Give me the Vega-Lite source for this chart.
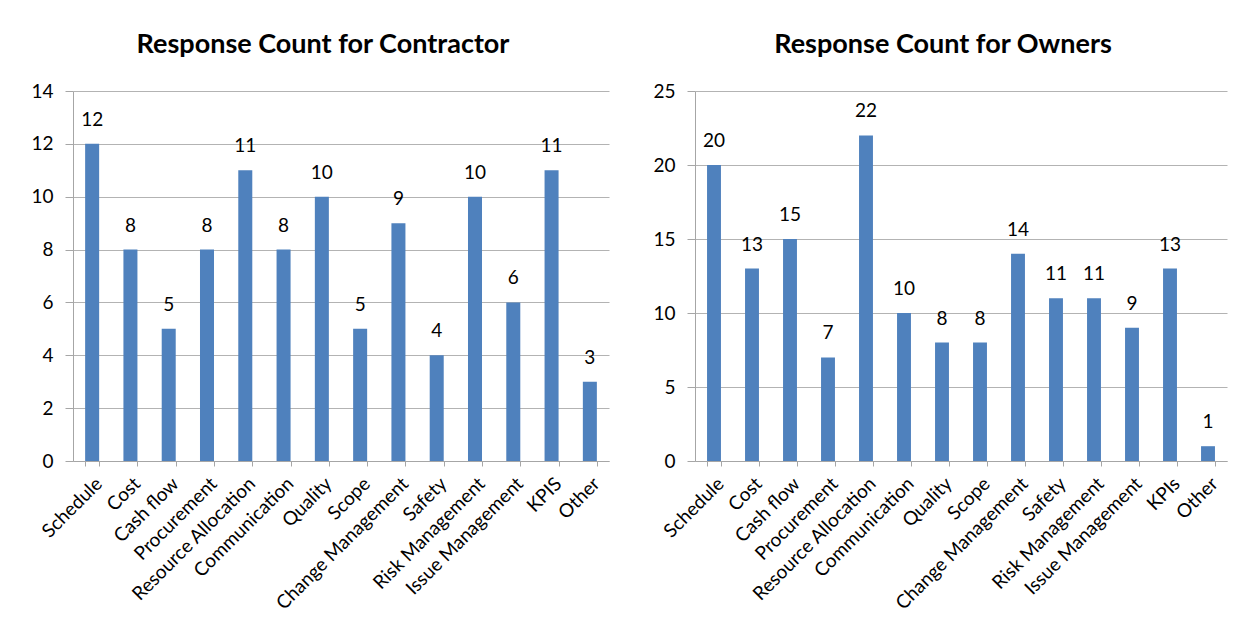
{
  "$schema": "https://vega.github.io/schema/vega-lite/v6.json",
  "background": "white",
  "padding": {"left": 30, "top": 31, "right": 5, "bottom": 5},
  "datasets": {
    "contractor": [
      {"category": "Schedule", "count": 12},
      {"category": "Cost", "count": 8},
      {"category": "Cash flow", "count": 5},
      {"category": "Procurement", "count": 8},
      {"category": "Resource Allocation", "count": 11},
      {"category": "Communication", "count": 8},
      {"category": "Quality", "count": 10},
      {"category": "Scope", "count": 5},
      {"category": "Change Management", "count": 9},
      {"category": "Safety", "count": 4},
      {"category": "Risk Management", "count": 10},
      {"category": "Issue Management", "count": 6},
      {"category": "KPIS", "count": 11},
      {"category": "Other", "count": 3}
    ],
    "owners": [
      {"category": "Schedule", "count": 20},
      {"category": "Cost", "count": 13},
      {"category": "Cash flow", "count": 15},
      {"category": "Procurement", "count": 7},
      {"category": "Resource Allocation", "count": 22},
      {"category": "Communication", "count": 10},
      {"category": "Quality", "count": 8},
      {"category": "Scope", "count": 8},
      {"category": "Change Management", "count": 14},
      {"category": "Safety", "count": 11},
      {"category": "Risk Management", "count": 11},
      {"category": "Issue Management", "count": 9},
      {"category": "KPIs", "count": 13},
      {"category": "Other", "count": 1}
    ]
  },
  "config": {
    "font": "Lato",
    "view": {"stroke": null},
    "axis": {
      "labelFont": "Lato",
      "labelFontSize": 19,
      "labelColor": "#000000",
      "domainColor": "#a6a6a6",
      "tickColor": "#a6a6a6",
      "gridColor": "#b3b3b3",
      "labelPadding": 8
    },
    "axisY": {"tickSize": 8, "labelPadding": 12},
    "axisX": {"tickSize": 5, "labelPadding": 8},
    "title": {"font": "Lato", "fontSize": 27, "fontWeight": "bold", "color": "#000000", "anchor": "middle", "offset": 23, "dx": -18},
    "concat": {"spacing": 43}
  },
  "hconcat": [
    {
      "width": 536,
      "height": 370,
      "title": "Response Count for Contractor",
      "data": {"name": "contractor"},
      "encoding": {
        "x": {
          "field": "category", "type": "nominal", "sort": null,
          "scale": {"paddingInner": 0.634, "paddingOuter": 0.317},
          "axis": {"title": null, "labelAngle": -45, "labelAlign": "right", "labelBaseline": "top", "grid": false, "tickBand": "extent"}
        },
        "y": {
          "field": "count", "type": "quantitative",
          "scale": {"domain": [0, 14]},
          "axis": {"title": null, "values": [0, 2, 4, 6, 8, 10, 12, 14], "grid": true}
        }
      },
      "layer": [
        {"mark": {"type": "bar", "color": "#4F81BD"}},
        {"mark": {"type": "text", "dy": -18, "baseline": "alphabetic", "fontSize": 19, "color": "#000000"}, "encoding": {"text": {"field": "count", "type": "quantitative"}}}
      ]
    },
    {
      "width": 532,
      "height": 370,
      "title": "Response Count for Owners",
      "data": {"name": "owners"},
      "encoding": {
        "x": {
          "field": "category", "type": "nominal", "sort": null,
          "scale": {"paddingInner": 0.634, "paddingOuter": 0.317},
          "axis": {"title": null, "labelAngle": -45, "labelAlign": "right", "labelBaseline": "top", "grid": false, "tickBand": "extent"}
        },
        "y": {
          "field": "count", "type": "quantitative",
          "scale": {"domain": [0, 25]},
          "axis": {"title": null, "values": [0, 5, 10, 15, 20, 25], "grid": true}
        }
      },
      "layer": [
        {"mark": {"type": "bar", "color": "#4F81BD"}},
        {"mark": {"type": "text", "dy": -18, "baseline": "alphabetic", "fontSize": 19, "color": "#000000"}, "encoding": {"text": {"field": "count", "type": "quantitative"}}}
      ]
    }
  ]
}
